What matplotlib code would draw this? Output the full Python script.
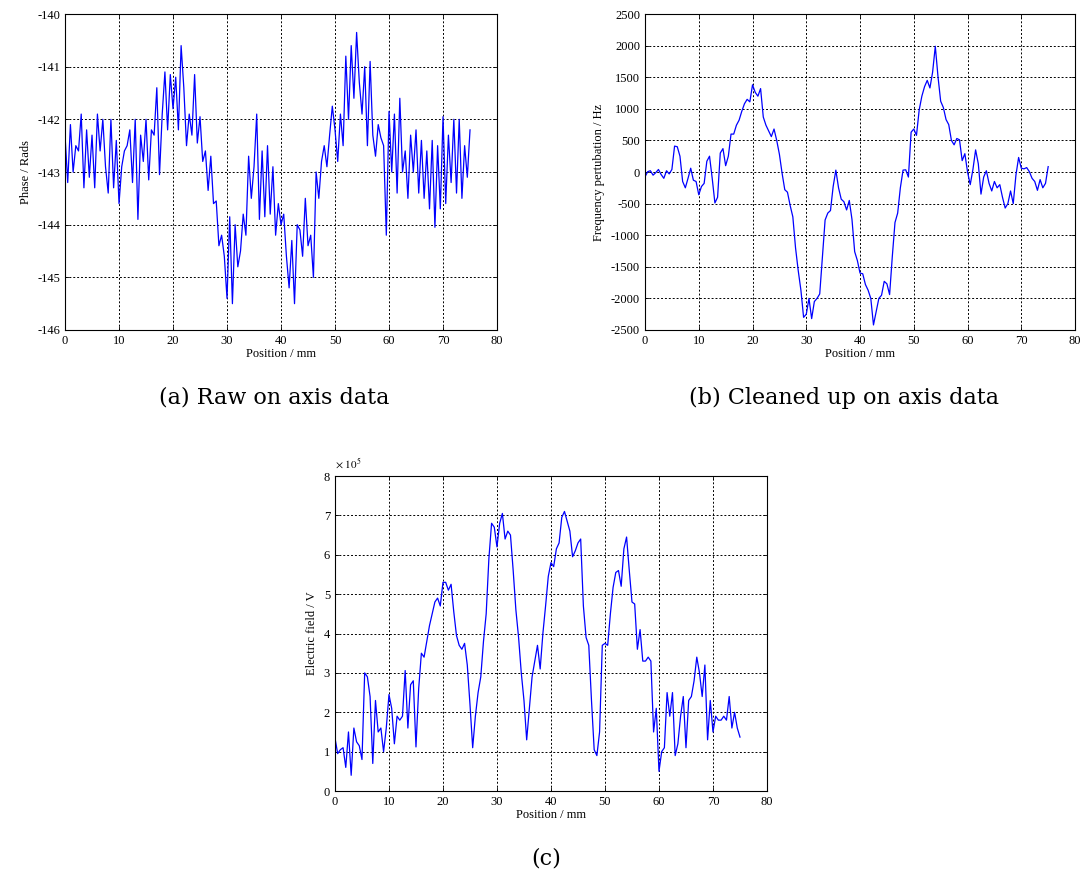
import numpy as np
import matplotlib
matplotlib.use("Agg")
import matplotlib.pyplot as plt
import matplotlib.ticker as ticker

plt.rcParams["font.family"] = ["Liberation Serif", "DejaVu Serif"]
plt.rcParams["mathtext.fontset"] = "stix"
plt.rcParams["axes.unicode_minus"] = False

# Position along the axis (mm), sampled every 0.5 mm
position_mm = np.arange(0, 75.01, 0.5)

# (a) raw phase, rad
phase_rads = [
    -142.3, -143.2, -142.1, -143.0, -142.5, -142.6, -141.9, -143.3, -142.2, -143.1,
    -142.3, -143.3, -141.9, -142.6, -142.0, -142.9, -143.4, -142.0, -143.3, -142.4,
    -143.6, -142.9, -142.6, -142.5, -142.2, -143.2, -142.0, -143.9, -142.3, -142.8,
    -142.0, -143.15, -142.2, -142.3, -141.4, -143.05, -141.9, -141.1, -142.2, -141.15,
    -141.8, -141.2, -142.2, -140.6, -141.4, -142.5, -141.9, -142.3, -141.15, -142.45,
    -141.95, -142.8, -142.6, -143.35, -142.7, -143.6, -143.55, -144.4, -144.2, -144.6,
    -145.4, -143.85, -145.5, -144.0, -144.8, -144.5, -143.8, -144.2, -142.7, -143.5,
    -142.9, -141.9, -143.9, -142.6, -143.85, -142.5, -143.8, -142.9, -144.2, -143.6,
    -144.0, -143.8, -144.6, -145.2, -144.3, -145.5, -144.0, -144.1, -144.6, -143.5,
    -144.4, -144.2, -145.0, -143.0, -143.5, -142.8, -142.5, -142.9, -142.3, -141.75,
    -142.2, -142.8, -141.9, -142.5, -140.8, -142.0, -140.6, -141.6, -140.35, -141.3,
    -141.9, -141.0, -142.5, -140.9, -142.3, -142.7, -142.1, -142.35, -142.5, -144.2,
    -141.85, -143.0, -141.9, -143.4, -141.6, -143.0, -142.6, -143.5, -142.3, -143.0,
    -142.2, -143.4, -142.4, -143.5, -142.6, -143.7, -142.4, -144.05, -142.5, -143.7,
    -141.95, -143.6, -142.3, -143.2, -142.0, -143.4, -142.0, -143.5, -142.5, -143.1,
    -142.2,
]

# (b) cleaned frequency perturbation, Hz
freq_hz = [
    -75, 5, 20, -50, -10, 40, -40, -100, 20, -30,
    40, 410, 400, 250, -150, -250, -100, 60, -130, -150,
    -360, -230, -180, 170, 250, -100, -490, -400, 300, 370,
    100, 250, 600, 600, 740, 820, 960, 1080, 1150, 1110,
    1380, 1260, 1200, 1320, 870, 740, 650, 560, 680, 500,
    280, -20, -280, -320, -530, -710, -1200, -1560, -1870, -2300,
    -2250, -2000, -2320, -2050, -2000, -1930, -1350, -760, -650, -610,
    -230, 30, -250, -430, -470, -600, -450, -750, -1260, -1400,
    -1600, -1610, -1780, -1870, -2000, -2420, -2210, -2000, -1950, -1730,
    -1770, -1940, -1340, -800, -650, -250, 30, 35, -80, 630,
    680, 580, 980, 1200, 1350, 1450, 1330, 1580, 1990, 1510,
    1120, 1020, 830, 750, 500, 430, 530, 510, 180, 290,
    0, -200, 40, 350, 130, -350, -80, 20, -180, -300,
    -150, -250, -200, -400, -570, -500, -300, -500, -50, 230,
    60, 50, 70, 5, -100, -150, -290, -120, -250, -180,
    85,
]

# (c) electric field, units of 1e5 V
efield_e5 = [
    1.35, 0.95, 1.05, 1.1, 0.6, 1.5, 0.4, 1.6, 1.25, 1.15,
    0.8, 3.0, 2.9, 2.4, 0.7, 2.3, 1.5, 1.6, 1.0, 1.6,
    2.45, 2.1, 1.2, 1.9, 1.8, 1.9, 3.06, 1.6, 2.7, 2.8,
    1.12, 2.6, 3.5, 3.4, 3.8, 4.2, 4.5, 4.8, 4.9, 4.7,
    5.3, 5.3, 5.1, 5.25, 4.55, 3.95, 3.7, 3.6, 3.75, 3.2,
    2.2, 1.1, 1.9, 2.5, 2.9, 3.8, 4.5, 5.9, 6.8, 6.7,
    6.2, 6.8, 7.05, 6.4, 6.6, 6.5, 5.6, 4.6, 3.9, 3.0,
    2.3, 1.3, 2.1, 2.9, 3.3, 3.7, 3.1, 4.0, 4.7, 5.45,
    5.8, 5.7, 6.15, 6.3, 6.95, 7.1, 6.85, 6.6, 5.95, 6.1,
    6.3, 6.4, 4.7, 3.9, 3.7, 2.3, 1.05, 0.9, 1.5, 3.7,
    3.75, 3.7, 4.5, 5.17, 5.55, 5.6, 5.2, 6.15, 6.45, 5.6,
    4.8, 4.75, 3.6, 4.1, 3.3, 3.3, 3.4, 3.3, 1.5, 2.1,
    0.5, 1.0, 1.1, 2.5, 1.9, 2.5, 0.9, 1.2, 1.9, 2.4,
    1.1, 2.3, 2.4, 2.8, 3.4, 3.0, 2.4, 3.2, 1.3, 2.3,
    1.5, 1.9, 1.8, 1.8, 1.9, 1.8, 2.4, 1.6, 2.0, 1.6,
    1.37,
]

x_ticks = np.arange(0, 81, 10)
LINE = "#0000ff"


def style_axes(ax):
    ax.grid(True, color="black", linestyle=(0, (2, 2)), linewidth=0.7)
    ax.tick_params(direction="in", top=True, right=True, labelsize=9,
                   length=3, width=0.6)
    for s in ax.spines.values():
        s.set_linewidth(0.8)
    ax.set_xlim(0, 80)
    ax.set_xticks(x_ticks)
    ax.set_xlabel("Position / mm", fontsize=9, labelpad=1)


fig = plt.figure(figsize=(10.89, 8.76), dpi=100)

# (a)
ax_a = fig.add_axes([0.0597, 0.6233, 0.3967, 0.3607])
ax_a.plot(position_mm, phase_rads, color=LINE, linewidth=0.9)
style_axes(ax_a)
ax_a.set_ylim(-146, -140)
ax_a.set_yticks(np.arange(-146, -139, 1))
ax_a.set_ylabel("Phase / Rads", fontsize=9)

# (b)
ax_b = fig.add_axes([0.5923, 0.6233, 0.3949, 0.3607])
ax_b.plot(position_mm, freq_hz, color=LINE, linewidth=0.9)
style_axes(ax_b)
ax_b.set_ylim(-2500, 2500)
ax_b.set_yticks(np.arange(-2500, 2501, 500))
ax_b.set_ylabel("Frequency pertubation / Hz", fontsize=9)

# (c)
ax_c = fig.add_axes([0.3076, 0.097, 0.3967, 0.3596])
ax_c.plot(position_mm, np.array(efield_e5) * 1e5, color=LINE, linewidth=0.9)
style_axes(ax_c)
ax_c.set_ylim(0, 8e5)
ax_c.set_yticks(np.arange(0, 8.01e5, 1e5))
ax_c.yaxis.set_major_formatter(ticker.FuncFormatter(lambda v, p: f"{v / 1e5:g}"))
ax_c.text(0.0, 1.015, r"$\times\ 10^5$", transform=ax_c.transAxes,
          ha="left", va="bottom", fontsize=8)
ax_c.set_ylabel("Electric field / V", fontsize=9)

cap = dict(ha="center", va="center", fontsize=16, family="DejaVu Serif")
fig.text(0.2516, 0.5457, "(a) Raw on axis data", **cap)
fig.text(0.7746, 0.5457, "(b) Cleaned up on axis data", **cap)
fig.text(0.5014, 0.0205, "(c)", **cap)

fig.savefig("out.png", dpi=100)
